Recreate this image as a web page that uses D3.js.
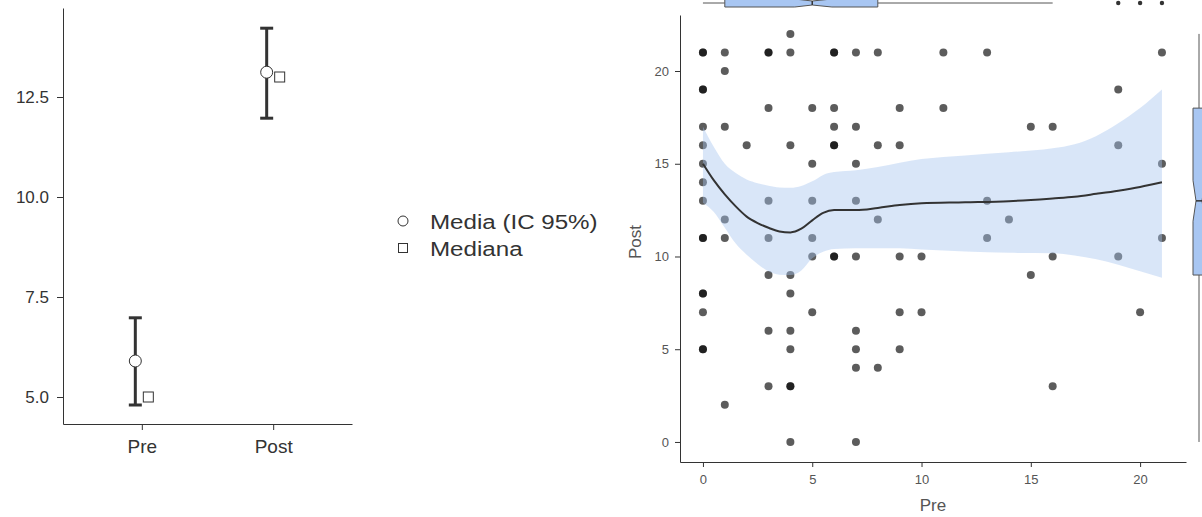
<!DOCTYPE html>
<html>
<head>
<meta charset="utf-8">
<script src="https://cdn.jsdelivr.net/npm/d3@7"></script>
<style>
  body { margin: 0; background: #fff; }
  svg { font-family: "Liberation Sans", Arial, sans-serif; }
  .axis path, .axis line { stroke: #333; }
</style>
</head>
<body>
<script>
// descriptives (left panel)
const groups = ['Pre', 'Post'];
const means = [5.9, 13.12];
const ciLow = [4.8, 11.97];
const ciHigh = [6.98, 14.22];
const medians = [5, 13];
const legendLabels = ['Media (IC 95%)', 'Mediana'];

// scatter (right panel)
const pre = [4, 0, 0, 1, 3, 3, 4, 6, 6, 7, 8, 11, 13, 21, 1, 0, 0, 19, 3, 5, 6, 9, 11,
  0, 1, 6, 7, 15, 16, 0, 2, 4, 6, 6, 8, 9, 19, 0, 5, 7, 21, 0, 0, 3, 5, 7, 13, 1, 8, 14,
  0, 0, 1, 3, 5, 13, 21, 5, 6, 6, 7, 9, 10, 16, 19, 3, 4, 15, 0, 0, 4, 0, 5, 9, 10, 20,
  3, 4, 7, 0, 0, 4, 7, 9, 7, 8, 3, 4, 4, 16, 1, 4, 7];
const post = [22, 21, 21, 21, 21, 21, 21, 21, 21, 21, 21, 21, 21, 21, 20, 19, 19, 19, 18, 18, 18, 18, 18,
  17, 17, 17, 17, 17, 17, 16, 16, 16, 16, 16, 16, 16, 16, 15, 15, 15, 15, 14, 13, 13, 13, 13, 13, 12, 12, 12,
  11, 11, 11, 11, 11, 11, 11, 10, 10, 10, 10, 10, 10, 10, 10, 9, 9, 9, 8, 8, 8, 7, 7, 7, 7, 7,
  6, 6, 6, 5, 5, 5, 5, 5, 4, 4, 3, 3, 3, 3, 2, 0, 0];

// smoother with confidence band
const smoothX = [0, 0.5, 1, 1.5, 2, 2.5, 3, 3.5, 4, 4.5, 5, 5.5, 6, 7, 8, 9, 10, 12, 14, 16, 17, 18, 19, 20, 21];
const smoothY = [15.0, 14.1, 13.35, 12.7, 12.15, 11.8, 11.55, 11.35, 11.3, 11.5, 11.95, 12.35, 12.5, 12.5,
  12.62, 12.78, 12.87, 12.92, 12.98, 13.13, 13.22, 13.38, 13.55, 13.75, 14.0];
const smoothHi = [17.0, 15.9, 15.0, 14.5, 14.15, 13.95, 13.82, 13.72, 13.7, 13.8, 14.05, 14.4, 14.55, 14.65,
  14.82, 15.05, 15.25, 15.45, 15.62, 15.83, 16.05, 16.5, 17.18, 18.0, 19.0];
const smoothLo = [12.9, 12.4, 11.55, 10.7, 10.1, 9.6, 9.2, 9.02, 9.0, 9.25, 9.9, 10.25, 10.4, 10.45,
  10.45, 10.44, 10.38, 10.27, 10.2, 10.18, 10.05, 9.85, 9.55, 9.2, 8.85];

// marginal boxplots: [min, q1, median, q3, max], notch [lo, hi]
const preBox = [0, 1, 5, 8, 16];
const preNotch = [4.2, 5.9];
const preOutliers = [19, 20, 21];
const postBox = [0, 9, 13, 18, 22];
const postNotch = [11.9, 14.1];

const svg = d3.select('body')
  .append('svg')
  .attr('width', 1202)
  .attr('height', 517);

// ---------- left panel ----------
const lx = d3.scalePoint().domain(groups).range([63, 352]).padding(0.6);
const ly = d3.scaleLinear().domain([4.325, 14.725]).range([424, 8]);

const lyAxis = svg.append('g')
  .attr('class', 'axis')
  .attr('transform', 'translate(63,0)')
  .call(d3.axisLeft(ly).tickValues([5, 7.5, 10, 12.5]).tickFormat(d3.format('.1f')).tickSize(6).tickPadding(8).tickSizeOuter(0));
lyAxis.selectAll('text').attr('fill', '#333').style('font-size', '17px');

const lxAxis = svg.append('g')
  .attr('class', 'axis')
  .attr('transform', 'translate(0,424)')
  .call(d3.axisBottom(lx).tickSize(6).tickPadding(10).tickSizeOuter(0));
lxAxis.selectAll('text').attr('fill', '#333').style('font-size', '19px');

const desc = groups.map((g, i) => ({ g, mean: means[i], lo: ciLow[i], hi: ciHigh[i], med: medians[i] }));

const eb = svg.append('g').attr('stroke', '#333').attr('stroke-width', 3);
eb.selectAll('.bar').data(desc).enter().append('line')
  .attr('x1', d => lx(d.g) - 6.5).attr('x2', d => lx(d.g) - 6.5)
  .attr('y1', d => ly(d.lo)).attr('y2', d => ly(d.hi));
eb.selectAll('.caphi').data(desc).enter().append('line')
  .attr('x1', d => lx(d.g) - 13).attr('x2', d => lx(d.g))
  .attr('y1', d => ly(d.hi)).attr('y2', d => ly(d.hi));
eb.selectAll('.caplo').data(desc).enter().append('line')
  .attr('x1', d => lx(d.g) - 13).attr('x2', d => lx(d.g))
  .attr('y1', d => ly(d.lo)).attr('y2', d => ly(d.lo));

svg.selectAll('.mean').data(desc).enter().append('circle')
  .attr('cx', d => lx(d.g) - 6.5)
  .attr('cy', d => ly(d.mean))
  .attr('r', 6)
  .attr('fill', '#fff')
  .attr('stroke', '#333')
  .attr('stroke-width', 1);

svg.selectAll('.median').data(desc).enter().append('rect')
  .attr('x', d => lx(d.g) + 6.5 - 5)
  .attr('y', d => ly(d.med) - 5)
  .attr('width', 10)
  .attr('height', 10)
  .attr('fill', '#fff')
  .attr('stroke', '#333')
  .attr('stroke-width', 1);

// legend
const legend = svg.append('g').attr('transform', 'translate(403,221)');
legend.append('circle').attr('cx', 0).attr('cy', 0).attr('r', 5)
  .attr('fill', '#fff').attr('stroke', '#333');
legend.append('rect').attr('x', -4.5).attr('y', 22.5).attr('width', 9).attr('height', 9)
  .attr('fill', '#fff').attr('stroke', '#333');
legend.selectAll('text').data(legendLabels).enter().append('text')
  .attr('transform', (d, i) => 'translate(27,' + (8 + i * 27) + ') scale(1.15,1)')
  .attr('fill', '#333')
  .style('font-size', '21px')
  .text(d => d);

// ---------- right panel ----------
const sx = d3.scaleLinear().domain([-1.05, 22.1]).range([680, 1186]);
const sy = d3.scaleLinear().domain([-1.08, 23.02]).range([462, 15]);

const sxAxis = svg.append('g')
  .attr('class', 'axis')
  .attr('transform', 'translate(0,462)')
  .call(d3.axisBottom(sx).tickValues([0, 5, 10, 15, 20]).tickSize(5).tickPadding(8).tickSizeOuter(0));
sxAxis.selectAll('text').attr('fill', '#555').style('font-size', '13px');
sxAxis.select('.domain').attr('stroke', '#555');

const syAxis = svg.append('g')
  .attr('class', 'axis')
  .attr('transform', 'translate(680,0)')
  .call(d3.axisLeft(sy).tickValues([0, 5, 10, 15, 20]).tickSize(5).tickPadding(6).tickSizeOuter(0));
syAxis.selectAll('text').attr('fill', '#555').style('font-size', '13px');
syAxis.select('.domain').attr('stroke', '#555');

svg.append('text')
  .attr('x', 933).attr('y', 511)
  .attr('text-anchor', 'middle')
  .attr('fill', '#555')
  .style('font-size', '17px')
  .text('Pre');
svg.append('text')
  .attr('transform', 'translate(641,242) rotate(-90)')
  .attr('text-anchor', 'middle')
  .attr('fill', '#555')
  .style('font-size', '17px')
  .text('Post');

const pts = pre.map((p, i) => ({ x: p, y: post[i] }));
svg.append('g').selectAll('.point')
  .data(pts)
  .enter()
  .append('circle')
  .attr('class', 'point')
  .attr('r', 4)
  .attr('cx', d => sx(d.x))
  .attr('cy', d => sy(d.y))
  .attr('fill', '#000')
  .attr('opacity', 0.64);

const sm = smoothX.map((x, i) => ({ x, y: smoothY[i], hi: smoothHi[i], lo: smoothLo[i] }));
svg.append('path')
  .datum(sm)
  .attr('fill', '#a5c3ef')
  .attr('opacity', 0.42)
  .attr('d', d3.area().curve(d3.curveMonotoneX).x(d => sx(d.x)).y0(d => sy(d.lo)).y1(d => sy(d.hi)));
svg.append('path')
  .datum(sm)
  .attr('fill', 'none')
  .attr('stroke', '#333')
  .attr('stroke-width', 2)
  .attr('d', d3.line().curve(d3.curveMonotoneX).x(d => sx(d.x)).y(d => sy(d.y)));

// top marginal boxplot (Pre), horizontal
const boxFill = '#a8c6f2';
const ty = 3, th = 4;
const topBox = svg.append('g').attr('stroke', '#555').attr('stroke-width', 1);
topBox.append('line').attr('x1', sx(preBox[0])).attr('x2', sx(preBox[1])).attr('y1', ty).attr('y2', ty);
topBox.append('line').attr('x1', sx(preBox[3])).attr('x2', sx(preBox[4])).attr('y1', ty).attr('y2', ty);
topBox.append('path')
  .attr('fill', boxFill)
  .attr('d', 'M' + sx(preBox[1]) + ',' + (ty - th) +
    'L' + sx(preNotch[0]) + ',' + (ty - th) + 'L' + sx(preBox[2]) + ',' + (ty - th / 2) +
    'L' + sx(preNotch[1]) + ',' + (ty - th) + 'L' + sx(preBox[3]) + ',' + (ty - th) +
    'L' + sx(preBox[3]) + ',' + (ty + th) + 'L' + sx(preNotch[1]) + ',' + (ty + th) +
    'L' + sx(preBox[2]) + ',' + (ty + th / 2) + 'L' + sx(preNotch[0]) + ',' + (ty + th) +
    'L' + sx(preBox[1]) + ',' + (ty + th) + 'Z');
topBox.append('line').attr('x1', sx(preBox[2])).attr('x2', sx(preBox[2]))
  .attr('y1', ty - th / 2).attr('y2', ty + th / 2).attr('stroke', '#333').attr('stroke-width', 1.5);
svg.selectAll('.out').data(preOutliers).enter().append('circle')
  .attr('cx', d => sx(d)).attr('cy', ty).attr('r', 2.2).attr('fill', '#333');

// right marginal boxplot (Post), vertical
const rx = 1199, rw = 6;
const rightBox = svg.append('g').attr('stroke', '#555').attr('stroke-width', 1);
rightBox.append('line').attr('y1', sy(postBox[0])).attr('y2', sy(postBox[1])).attr('x1', rx).attr('x2', rx);
rightBox.append('line').attr('y1', sy(postBox[3])).attr('y2', sy(postBox[4])).attr('x1', rx).attr('x2', rx);
rightBox.append('path')
  .attr('fill', boxFill)
  .attr('d', 'M' + (rx - rw) + ',' + sy(postBox[1]) +
    'L' + (rx - rw) + ',' + sy(postNotch[0]) + 'L' + (rx - rw / 2) + ',' + sy(postBox[2]) +
    'L' + (rx - rw) + ',' + sy(postNotch[1]) + 'L' + (rx - rw) + ',' + sy(postBox[3]) +
    'L' + (rx + rw) + ',' + sy(postBox[3]) + 'L' + (rx + rw) + ',' + sy(postNotch[1]) +
    'L' + (rx + rw / 2) + ',' + sy(postBox[2]) + 'L' + (rx + rw) + ',' + sy(postNotch[0]) +
    'L' + (rx + rw) + ',' + sy(postBox[1]) + 'Z');
rightBox.append('line').attr('y1', sy(postBox[2])).attr('y2', sy(postBox[2]))
  .attr('x1', rx - rw / 2).attr('x2', rx + rw / 2).attr('stroke', '#333').attr('stroke-width', 1.5);
</script>
</body>
</html>
